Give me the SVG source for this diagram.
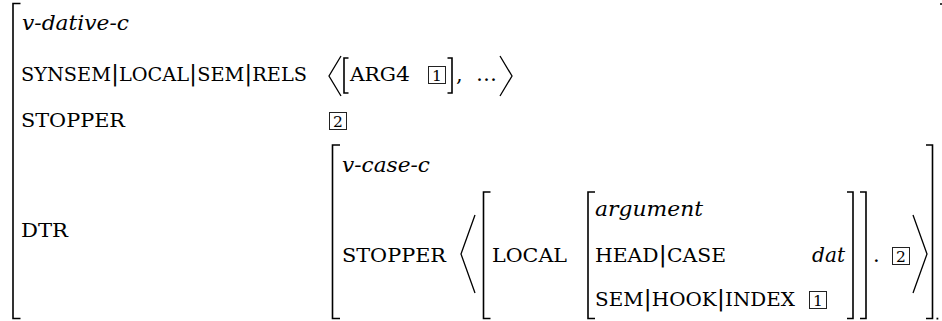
<svg xmlns="http://www.w3.org/2000/svg" width="942" height="321" viewBox="0 0 942 321">
<style>
text { font-family: "DejaVu Serif", serif; fill: #000; }
.it { font-style: italic; font-size: 21px; }
.sc { font-size: 18.5px; }
.rm { font-size: 21px; }
.bar { font-size: 23px; }
.dg { font-size: 15.5px; text-anchor: middle; }
.br { fill: none; stroke: #000; stroke-width: 1.6; }
.ang { fill: none; stroke: #000; stroke-width: 1.3; stroke-linejoin: miter; }
.box { fill: none; stroke: #222; stroke-width: 1; }
</style>
<rect width="942" height="321" fill="#fff"/>

<g id="outer-avm">
  <path class="br" d="M20.5,3.5 H13 V318.5 H20.5"/>
  <path class="br" d="M940,4 H946 V318.5"/>
  <rect x="936.5" y="317.7" width="1.8" height="1.8" fill="#000"/>
  <text class="it" x="22" y="30" textLength="107" lengthAdjust="spacingAndGlyphs">v-dative-c</text>
  <text class="sc" x="21" y="81" textLength="286" lengthAdjust="spacingAndGlyphs">SYNSEM<tspan class="bar">|</tspan>LOCAL<tspan class="bar">|</tspan>SEM<tspan class="bar">|</tspan>RELS</text>
  <text class="sc" x="21" y="127" textLength="104" lengthAdjust="spacingAndGlyphs">STOPPER</text>
  <text class="sc" x="21" y="237" textLength="47" lengthAdjust="spacingAndGlyphs">DTR</text>
</g>

<g id="rels-value">
  <path class="ang" d="M341,56 L329,76 L341,96"/>
  <path class="br" d="M348.5,58 H344 V93 H348.5"/>
  <text class="sc" x="350" y="81" textLength="60" lengthAdjust="spacingAndGlyphs">ARG<tspan font-size="20">4</tspan></text>
  <rect class="box" x="428.5" y="66.5" width="17" height="17"/>
  <text class="dg" x="437" y="80.5">1</text>
  <path class="br" d="M447.5,58 H452 V93 H447.5"/>
  <text class="rm" x="456" y="81">,</text>
  <text class="rm" x="476" y="81" textLength="21" lengthAdjust="spacingAndGlyphs">…</text>
  <path class="ang" d="M500,56 L512,76 L500,96"/>
</g>

<g id="stopper-value">
  <rect class="box" x="329.5" y="112.5" width="17" height="17"/>
  <text class="dg" x="338" y="126.5">2</text>
</g>

<g id="dtr-value">
  <path class="br" d="M340,145 H332.5 V318.5 H340"/>
  <path class="br" d="M926,145 H932.5 V318.5 H926"/>
  <text class="it" x="342" y="172" textLength="88" lengthAdjust="spacingAndGlyphs">v-case-c</text>
  <text class="sc" x="342" y="262" textLength="104" lengthAdjust="spacingAndGlyphs">STOPPER</text>
  <path class="ang" d="M475,215 L461,254 L475,293"/>
  <path class="br" d="M490.5,192 H483.5 V318.5 H490.5"/>
  <text class="sc" x="492" y="262" textLength="75" lengthAdjust="spacingAndGlyphs">LOCAL</text>
  <path class="br" d="M595,192 H588 V318.5 H595"/>
  <text class="it" x="595" y="216" textLength="108" lengthAdjust="spacingAndGlyphs">argument</text>
  <text class="sc" x="595" y="262" textLength="131" lengthAdjust="spacingAndGlyphs">HEAD<tspan class="bar">|</tspan>CASE</text>
  <text class="it" x="812" y="262" textLength="33" lengthAdjust="spacingAndGlyphs">dat</text>
  <text class="sc" x="595" y="306" textLength="200" lengthAdjust="spacingAndGlyphs">SEM<tspan class="bar">|</tspan>HOOK<tspan class="bar">|</tspan>INDEX</text>
  <rect class="box" x="809.5" y="291.5" width="17" height="17"/>
  <text class="dg" x="818" y="305.5">1</text>
  <path class="br" d="M847,192 H853 V318.5 H847"/>
  <path class="br" d="M860,192 H866 V318.5 H860"/>
  <text class="rm" x="873" y="262">.</text>
  <rect class="box" x="892.5" y="247.5" width="17" height="17"/>
  <text class="dg" x="901" y="261.5">2</text>
  <path class="ang" d="M913,215 L927,254 L913,293"/>
</g>
</svg>
